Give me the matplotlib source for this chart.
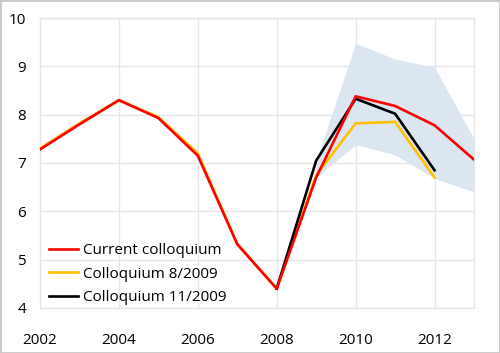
import matplotlib.pyplot as plt
import numpy as np

plt.rcParams['font.family'] = ['Open Sans', 'DejaVu Sans']

years = [2002, 2003, 2004, 2005, 2006, 2007, 2008, 2009, 2010, 2011, 2012, 2013]
current = [7.28, 7.8, 8.3, 7.93, 7.15, 5.32, 4.4, 6.7, 8.38, 8.18, 7.78, 7.07]

years_8 = [2002, 2003, 2004, 2005, 2006, 2007, 2008, 2009, 2010, 2011, 2012]
coll_8 = [7.3, 7.82, 8.3, 7.95, 7.2, 5.32, 4.4, 6.75, 7.82, 7.85, 6.7]

years_11 = [2008, 2009, 2010, 2011, 2012]
coll_11 = [4.4, 7.05, 8.33, 8.02, 6.85]

band_years = [2009, 2010, 2011, 2012, 2013]
band_low = [6.7, 7.38, 7.17, 6.68, 6.4]
band_high = [7.05, 9.48, 9.15, 8.98, 7.5]

fig = plt.figure(figsize=(5, 3.53), dpi=100)
ax = fig.add_axes([0.08, 0.1275, 0.868, 0.8215])

ax.fill_between(band_years, band_low, band_high, color='#dce6f0', linewidth=0, zorder=1)
ax.plot(years, current, color='#ff0000', lw=1.9, label='Current colloquium', zorder=4)
ax.plot(years_8, coll_8, color='#ffc000', lw=1.9, label='Colloquium 8/2009', zorder=3)
ax.plot(years_11, coll_11, color='#000000', lw=1.9, label='Colloquium 11/2009', zorder=3)

ax.set_xlim(2002, 2013)
ax.set_ylim(4, 10)
ax.set_xticks([2002, 2004, 2006, 2008, 2010, 2012])
ax.set_yticks([4, 5, 6, 7, 8, 9, 10])
ax.grid(True, color='#e6e6e6', lw=1, zorder=0)
ax.set_axisbelow(True)
ax.tick_params(length=0, labelsize=11)
ax.tick_params(axis='x', pad=18)
ax.tick_params(axis='y', pad=10)
for s in ax.spines.values():
    s.set_color('#e6e6e6')
    s.set_linewidth(1)

ax.legend(loc='lower left', frameon=False, fontsize=11, handlelength=1.9,
          handletextpad=0.3, labelspacing=0.55, borderaxespad=0.2,
          bbox_to_anchor=(0.0, -0.022))

fig.patches.append(plt.Rectangle((0, 0), 1, 1, transform=fig.transFigure,
                                 fill=False, edgecolor='#c8c8c8', lw=2))
fig.savefig('out.png', dpi=100)
